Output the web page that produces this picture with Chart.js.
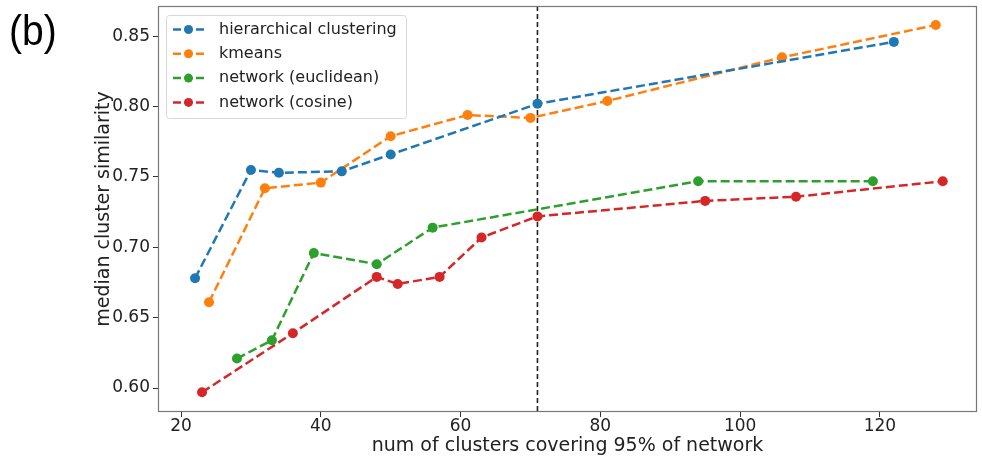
<!DOCTYPE html>
<html>
<head>
<meta charset="utf-8">
<script src="https://cdn.jsdelivr.net/npm/chart.js@4.4.1/dist/chart.umd.min.js"></script>
<style>
  html, body { margin: 0; padding: 0; background: #fff; }
  #wrap { position: relative; width: 982px; height: 457px; }
  #panel { position: absolute; left: 9px; top: 6px; font-family: "Liberation Sans", Arial, sans-serif; font-size: 39px; line-height: 44px; color: #000; transform: scale(1, 1.1); transform-origin: 0 0; }
</style>
</head>
<body>
<div id="wrap">
  <canvas id="c" width="982" height="457"></canvas>
  <div id="panel">(b)</div>
</div>
<script>
// Series: number of clusters covering 95% of the network vs. median cluster similarity
const hierX = [22, 30, 34, 43, 50, 71, 122];
const hierY = [0.678, 0.755, 0.753, 0.754, 0.766, 0.802, 0.846];

const kmeansX = [24, 32, 40, 50, 61, 70, 81, 106, 128];
const kmeansY = [0.661, 0.742, 0.746, 0.779, 0.794, 0.792, 0.804, 0.835, 0.858];

const euclidX = [28, 33, 39, 48, 56, 94, 119];
const euclidY = [0.621, 0.634, 0.696, 0.688, 0.714, 0.747, 0.747];

const cosineX = [23, 36, 48, 51, 57, 63, 71, 95, 108, 129];
const cosineY = [0.597, 0.639, 0.679, 0.674, 0.679, 0.707, 0.722, 0.733, 0.736, 0.747];

const seriesNames = ['hierarchical clustering', 'kmeans', 'network (euclidean)', 'network (cosine)'];
const seriesColors = ['#1f77b4', '#ff7f0e', '#2ca02c', '#d62728'];

const xTicks = [20, 40, 60, 80, 100, 120];
const yTicks = [0.60, 0.65, 0.70, 0.75, 0.80, 0.85];

// Reference line marking the chosen cluster count
const thresholdX = 71;

const FONT = '"DejaVu Sans", sans-serif';

function pts(xs, ys) { return xs.map((x, i) => ({ x: x, y: ys[i] })); }

const allSeries = [[hierX, hierY], [kmeansX, kmeansY], [euclidX, euclidY], [cosineX, cosineY]];

const datasets = allSeries.map((s, i) => ({
  label: seriesNames[i],
  data: pts(s[0], s[1]),
  showLine: true,
  borderColor: seriesColors[i],
  backgroundColor: seriesColors[i],
  borderWidth: 2.5,
  borderDash: [9, 4],
  pointRadius: 5,
  pointHoverRadius: 5,
  pointBorderWidth: 0,
  tension: 0
}));

// Frame, vertical reference line and in-plot legend
const decorations = {
  id: 'decorations',
  beforeDatasetsDraw(chart) {
    const ctx = chart.ctx;
    const xs = chart.scales.x;
    const a = chart.chartArea;
    const px = xs.getPixelForValue(thresholdX);
    ctx.save();
    ctx.strokeStyle = '#222';
    ctx.lineWidth = 1.6;
    ctx.setLineDash([5, 3]);
    ctx.beginPath();
    ctx.moveTo(px, a.top);
    ctx.lineTo(px, a.bottom);
    ctx.stroke();
    ctx.restore();
  },
  afterDraw(chart) {
    const ctx = chart.ctx;
    const a = chart.chartArea;
    ctx.save();
    ctx.strokeStyle = '#777';
    ctx.lineWidth = 1.2;
    ctx.setLineDash([]);
    ctx.strokeRect(a.left + 0.5, a.top + 0.5, a.right - a.left - 1, a.bottom - a.top - 1);

    // legend box
    const bx = a.left + 8, by = a.top + 9, bw = 240, bh = 103;
    ctx.fillStyle = 'rgba(255,255,255,0.85)';
    ctx.strokeStyle = '#d8d8d8';
    ctx.lineWidth = 1;
    ctx.beginPath();
    ctx.roundRect(bx + 0.5, by + 0.5, bw, bh, 3);
    ctx.fill();
    ctx.stroke();

    ctx.font = '16px ' + FONT;
    ctx.textBaseline = 'middle';
    chart.data.datasets.forEach((ds, i) => {
      const cy = by + 14.5 + i * 24.3;
      ctx.strokeStyle = ds.borderColor;
      ctx.lineWidth = 2.5;
      ctx.setLineDash([8, 3.5]);
      ctx.beginPath();
      ctx.moveTo(bx + 7, cy);
      ctx.lineTo(bx + 39, cy);
      ctx.stroke();
      ctx.setLineDash([]);
      ctx.fillStyle = ds.backgroundColor;
      ctx.beginPath();
      ctx.arc(bx + 22.5, cy, 4.5, 0, Math.PI * 2);
      ctx.fill();
      ctx.fillStyle = '#222';
      ctx.fillText(ds.label, bx + 53, cy);
    });
    ctx.restore();
  }
};

new Chart(document.getElementById('c'), {
  type: 'scatter',
  data: { datasets: datasets },
  options: {
    responsive: false,
    animation: false,
    devicePixelRatio: 1,
    layout: { padding: { left: 93, top: 6, right: 4, bottom: 0 } },
    plugins: { legend: { display: false }, tooltip: { enabled: false } },
    scales: {
      x: {
        type: 'linear',
        min: 16.7,
        max: 133.9,
        afterBuildTicks: (axis) => { axis.ticks = xTicks.map(v => ({ value: v })); },
        afterFit: (axis) => { axis.height = 45; axis.paddingLeft = 0; axis.paddingRight = 0; },
        grid: { drawOnChartArea: false, drawTicks: true, tickLength: 5, color: '#333', tickWidth: 1 },
        border: { display: false },
        ticks: { color: '#222', font: { family: FONT, size: 17 }, padding: -1, maxRotation: 0,
                 callback: (v) => String(v) },
        title: { display: true, text: 'num of clusters covering 95% of network', color: '#222',
                 font: { family: FONT, size: 19 }, padding: { top: 0, bottom: 0 } }
      },
      y: {
        type: 'linear',
        min: 0.583,
        max: 0.8715,
        afterBuildTicks: (axis) => { axis.ticks = yTicks.map(v => ({ value: v })); },
        afterFit: (axis) => { axis.width = 65; axis.paddingTop = 0; axis.paddingBottom = 0; },
        grid: { drawOnChartArea: false, drawTicks: true, tickLength: 5, color: '#333', tickWidth: 1 },
        border: { display: false },
        ticks: { color: '#222', font: { family: FONT, size: 17 }, padding: 3,
                 callback: (v) => v.toFixed(2) },
        title: { display: true, text: 'median cluster similarity', color: '#222',
                 font: { family: FONT, size: 19 }, padding: { top: 0, bottom: 0 } }
      }
    }
  },
  plugins: [decorations]
});
</script>
</body>
</html>
